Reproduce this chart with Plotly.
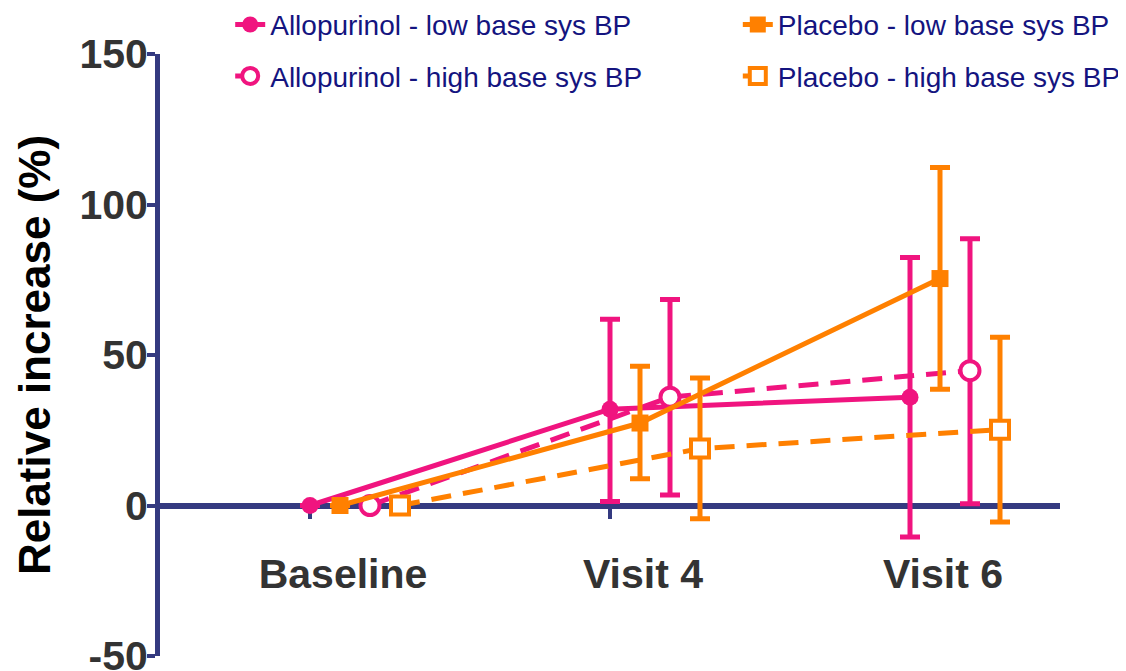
import plotly.graph_objects as go

categories = ["Baseline", "Visit 4", "Visit 6"]
cat_pos = [0, 1, 2]
y_ticks = [-50, 0, 50, 100, 150]
y_tick_labels = ["-50", "0", "50", "100", "150"]

allo_low_y = [0, 32.0, 36.0]
allo_low_hi = [None, 61.9, 82.4]
allo_low_lo = [None, 1.3, -10.5]

allo_high_y = [0, 36.0, 44.8]
allo_high_hi = [None, 68.4, 88.6]
allo_high_lo = [None, 3.5, 0.6]

plac_low_y = [0, 27.4, 75.4]
plac_low_hi = [None, 46.3, 112.3]
plac_low_lo = [None, 8.9, 38.6]

plac_high_y = [0, 18.9, 25.2]
plac_high_hi = [None, 42.4, 55.9]
plac_high_lo = [None, -4.4, -5.5]

names = ["Allopurinol - low base sys BP", "Allopurinol - high base sys BP",
         "Placebo - low base sys BP", "Placebo - high base sys BP"]
offsets = [0.0, 0.2, 0.1, 0.3]

PINK = "#F0147F"
ORANGE = "#FF8000"
NAVY = "#343A80"

series = [
    (allo_low_y, allo_low_hi, allo_low_lo, PINK, "circle", True, "solid", "legend", 17),
    (allo_high_y, allo_high_hi, allo_high_lo, PINK, "circle", False, "20px,12px", "legend", 19),
    (plac_low_y, plac_low_hi, plac_low_lo, ORANGE, "square", True, "solid", "legend2", 17),
    (plac_high_y, plac_high_hi, plac_high_lo, ORANGE, "square", False, "20px,12px", "legend2", 18),
]

fig = go.Figure()
for i, (ys, hi, lo, col, sym, filled, dash, leg, sz) in enumerate(series):
    xs = [c + offsets[i] for c in cat_pos]
    plus = [None if h is None else h - y for h, y in zip(hi, ys)]
    minus = [None if l is None else y - l for l, y in zip(lo, ys)]
    fig.add_trace(go.Scatter(
        x=xs, y=ys, mode="lines+markers", name=names[i],
        legend=leg, legendgroup=names[i],
        line=dict(color=col, width=5, dash=dash),
        marker=dict(symbol=sym, size=sz,
                    color=col if filled else "white",
                    line=dict(color=col, width=0 if filled else 4)),
        error_y=dict(type="data", symmetric=False, array=plus, arrayminus=minus,
                     color=col, thickness=5, width=10),
    ))

fig.update_layout(
    width=1126, height=671,
    margin=dict(l=152, r=74, t=46, b=23, autoexpand=False),
    paper_bgcolor="white", plot_bgcolor="white",
    font=dict(family="Liberation Sans, Arial, sans-serif"),
    legend=dict(x=0.078, y=1.09, xanchor="left", yanchor="top",
                orientation="v", tracegroupgap=12,
                font=dict(size=28, color="#14147F"), bgcolor="rgba(0,0,0,0)"),
    legend2=dict(x=0.642, y=1.09, xanchor="left", yanchor="top",
                 orientation="v", tracegroupgap=12,
                 font=dict(size=28, color="#14147F"), bgcolor="rgba(0,0,0,0)"),
    xaxis=dict(range=[-0.5, 2.5], tickvals=cat_pos, ticktext=categories,
               showgrid=False, zeroline=False, showline=True, linecolor=NAVY,
               linewidth=6, anchor="free", position=0.25, layer="below traces",
               ticks="outside", ticklen=10, tickwidth=4, tickcolor=NAVY,
               ticklabelshift=33, ticklabelstandoff=20,
               tickfont=dict(size=41, color="#333333", weight="bold")),
    yaxis=dict(range=[-50, 150], tickvals=y_ticks, ticktext=y_tick_labels,
               showgrid=False, zeroline=False, showline=True, linecolor=NAVY,
               linewidth=5, ticks="outside", ticklen=8, tickwidth=4, tickcolor=NAVY,
               ticklabelstandoff=-9, ticklabeloverflow="allow",
               tickfont=dict(size=41, color="#333333", weight="bold"),
               title=dict(text="Relative increase (%)", standoff=16,
                          font=dict(size=44, color="black", weight="bold"))),
)

fig.write_html("out.html")
